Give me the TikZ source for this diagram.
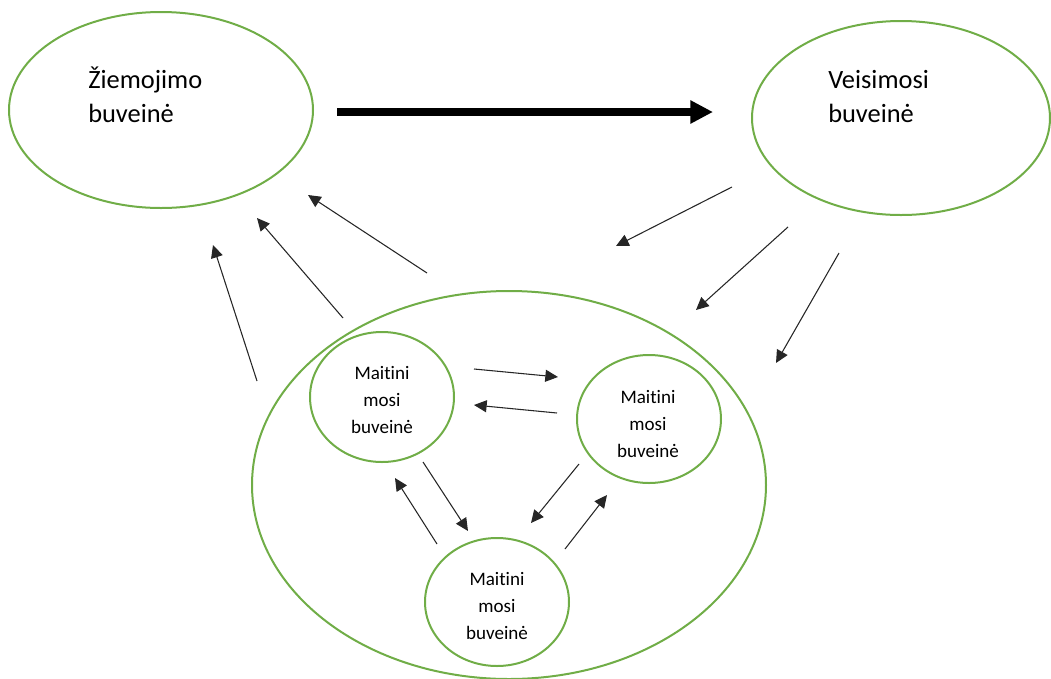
\documentclass[tikz,border=0pt]{standalone}
\usepackage{fontspec}
\setmainfont{Carlito}[Ligatures=NoCommon]
\usetikzlibrary{shapes.geometric,arrows.meta}
\definecolor{ogreen}{HTML}{70AD47}
\begin{document}
\begin{tikzpicture}[x=0.75pt,y=-0.75pt,
  hab/.style={draw=ogreen,line width=1.5pt,ellipse,inner sep=0pt,outer sep=0pt},
  bigtext/.style={inner sep=0pt,align=left,font=\fontsize{19.8}{25.5}\selectfont,anchor=base west},
  smalltext/.style={inner sep=0pt,align=center,font=\fontsize{14.3}{19.9}\selectfont},
  thin/.style={draw=black!85,line width=0.8pt,-{Triangle[length=9.5pt,width=9pt]}},
  thick/.style={draw=black,line width=5.8pt,-{Triangle[length=17pt,width=16.5pt]}}]
\useasboundingbox (0,0) rectangle (1051,679);
% habitats
\node[hab,minimum width=304*0.75pt,minimum height=196*0.75pt] (ziem) at (161,110) {};
\node[hab,minimum width=298*0.75pt,minimum height=194*0.75pt] (veis) at (901,118) {};
\node[hab,minimum width=514*0.75pt,minimum height=388*0.75pt] (mait) at (509,485) {};
\node[hab,minimum width=144*0.75pt,minimum height=130*0.75pt] (m1) at (382,397) {};
\node[hab,minimum width=144*0.75pt,minimum height=128*0.75pt] (m2) at (649,419) {};
\node[hab,minimum width=144*0.75pt,minimum height=128*0.75pt] (m3) at (497,602) {};
% labels
\node[bigtext] (tziem) at (88,122) {Žiemojimo\\buveinė};
\node[bigtext] (tveis) at (828,122) {Veisimosi\\buveinė};
\node[smalltext] (tm1) at (382,400) {Maitini\\mosi\\buveinė};
\node[smalltext] (tm2) at (648,424) {Maitini\\mosi\\buveinė};
\node[smalltext] (tm3) at (497,606) {Maitini\\mosi\\buveinė};
% arrow end points
\coordinate (k0) at (337,112); \coordinate (k1) at (713,112);
\coordinate (a1s) at (257,381); \coordinate (a1e) at (213,245);
\coordinate (a2s) at (343,318); \coordinate (a2e) at (257,218);
\coordinate (a3s) at (427,273); \coordinate (a3e) at (308,195);
\coordinate (b1s) at (732,187); \coordinate (b1e) at (616,246);
\coordinate (b2s) at (788,227); \coordinate (b2e) at (696,310);
\coordinate (b3s) at (839,253); \coordinate (b3e) at (776,363);
\coordinate (c1s) at (474,369); \coordinate (c1e) at (558,377);
\coordinate (c2s) at (557,413); \coordinate (c2e) at (474,405);
\coordinate (c3s) at (423,462); \coordinate (c3e) at (468,531);
\coordinate (c4s) at (437,544); \coordinate (c4e) at (395,478);
\coordinate (c5s) at (579,464); \coordinate (c5e) at (531,523);
\coordinate (c6s) at (565,549); \coordinate (c6e) at (607,495);
% arrows
\draw[thick] (k0) -- (k1);
\draw[thin] (a1s) -- (a1e);
\draw[thin] (a2s) -- (a2e);
\draw[thin] (a3s) -- (a3e);
\draw[thin] (b1s) -- (b1e);
\draw[thin] (b2s) -- (b2e);
\draw[thin] (b3s) -- (b3e);
\draw[thin] (c1s) -- (c1e);
\draw[thin] (c2s) -- (c2e);
\draw[thin] (c3s) -- (c3e);
\draw[thin] (c4s) -- (c4e);
\draw[thin] (c5s) -- (c5e);
\draw[thin] (c6s) -- (c6e);
\end{tikzpicture}
\end{document}
